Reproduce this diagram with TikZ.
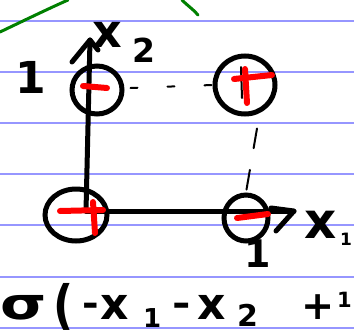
\documentclass[tikz,border=0pt]{standalone}
\usepackage{fontspec}
\setmainfont{DejaVu Sans}
\usetikzlibrary{shapes.geometric}
\definecolor{ruleblue}{RGB}{150,150,255}
\definecolor{redink}{RGB}{255,0,0}
\definecolor{greenink}{RGB}{0,128,0}
\begin{document}
\begin{tikzpicture}[x=1pt,y=-1pt,
  ruleline/.style={ruleblue, line width=1.6pt},
  pen/.style={line width=5pt, line cap=round, line join=round},
  thinpen/.style={line width=2pt, line cap=round},
  redpen/.style={redink, line width=6pt, line cap=round},
  ring/.style={ellipse, draw, line width=5pt, inner sep=0pt},
  hand/.style={font=\bfseries\fontsize{44}{44}\selectfont, inner sep=0pt},
  greenpen/.style={greenink, line width=3pt, line cap=round},
]
\useasboundingbox (0,0) rectangle (354,335);
\clip (0,0) rectangle (354,335);
\fill[white] (0,0) rectangle (354,335);
\foreach \y in {21,72,123,174,225,277,328} \draw[ruleline] (0,\y) -- (354,\y);
% green strokes
\draw[greenpen] (0,32) .. controls (25,20) and (50,8) .. (68,0);
\draw[greenpen] (182,0) .. controls (188,6) and (194,10) .. (198,15);
% rings
\node[ring, minimum width=50pt, minimum height=48pt] (tl) at (97,90) {};
\node[ring, minimum width=60pt, minimum height=58pt] (tr) at (245,85) {};
\node[ring, minimum width=62pt, minimum height=52pt] (bl) at (76,215) {};
\node[ring, minimum width=44pt, minimum height=46pt] (br) at (246,218) {};
\coordinate (o) at (86,211);
\coordinate (ytip) at (90,40);
\coordinate (xtip) at (294,211);
% axes
\draw[pen] (o) -- (ytip);
\draw[pen] (72,62) -- (ytip) -- (98,50);
\draw[pen] (o) -- (xtip);
\draw[pen] (271,208) -- (xtip) -- (276,231);
% dotted / dashed guides
\draw[thinpen, dash pattern=on 7pt off 30pt] (tl.east) ++(6,-2) -- (tr.west);
\draw[thinpen, dash pattern=on 20pt off 22pt] (tr.south) ++(12,12) -- (br.north);
\draw[thinpen] (241,67) -- (242,98);
% red marks
\draw[redpen] (83,86) -- (107,88);
\draw[redpen] (234,79) -- (272,75);
\draw[redpen] (245,69) -- (247,103);
\draw[redpen] (60,211) -- (103,210);
\draw[redpen] (93,202) -- (95,233);
\draw[redpen] (237,218) -- (268,214);
% labels
\node[hand] (one2) at (31,77) {1};
\node[hand, anchor=base west, font=\bfseries\fontsize{46}{46}\selectfont] (lx2) at (92,47)
  {\makebox[40pt][l]{x}\raisebox{-15pt}{\fontsize{33}{33}\selectfont 2}};
\node[hand, anchor=base west, font=\bfseries\fontsize{50}{50}\selectfont] (lx1) at (304,238)
  {\makebox[36pt][l]{x}\raisebox{-7pt}{\fontsize{17}{17}\selectfont 1}};
\node[hand, font=\bfseries\fontsize{38}{38}\selectfont] (one1) at (258,254) {1};
\node[hand, anchor=base west, font=\bfseries\fontsize{44}{44}\selectfont] (formula) at (0,319)
  {\makebox[53pt][l]{\scalebox{1.35}[1]{σ}}%
   \makebox[29pt][l]{\raisebox{-4pt}{\scalebox{1}[1.2]{(}}}%
   \makebox[18pt][l]{\scalebox{0.45}[1]{−}}%
   \makebox[43pt][l]{x}%
   \makebox[29pt][l]{\raisebox{-8pt}{\fontsize{26}{26}\selectfont 1}}%
   \makebox[25pt][l]{\scalebox{0.5}[1]{−}}%
   \makebox[40pt][l]{x}%
   \makebox[64pt][l]{\raisebox{-7pt}{\fontsize{30}{30}\selectfont 2}}%
   \makebox[36pt][l]{\scalebox{0.9}{+}}%
   \raisebox{12pt}{\fontsize{21}{21}\selectfont 1}};
\end{tikzpicture}
\end{document}
